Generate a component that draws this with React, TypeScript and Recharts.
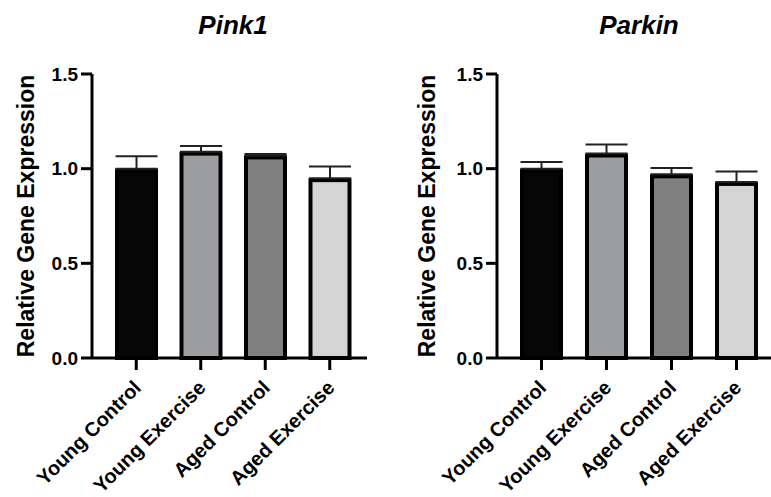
import React from "react";
import { BarChart, Bar, XAxis, YAxis, ErrorBar } from "recharts";

const FONT = "'Liberation Sans', Arial, sans-serif";

const categories = ["Young Control", "Young Exercise", "Aged Control", "Aged Exercise"];
const pink1Mean = [1.0, 1.09, 1.07, 0.95];
const pink1Sem = [0.065, 0.03, 0.008, 0.062];
const parkinMean = [1.0, 1.08, 0.97, 0.93];
const parkinSem = [0.035, 0.048, 0.034, 0.055];
const barColors = ["#060606", "#9d9ea2", "#808080", "#d4d4d4"];
const yTicks = [0, 0.5, 1.0, 1.5];

const buildRows = (mean: number[], sem: number[]) =>
  categories.map((name, i) => ({ name, mean: mean[i], err: [0, sem[i]] }));

// bar drawn with its 4px border inside the value box, like the original
const InsetBar = (props: any) => {
  const { x, y, width, height, index } = props;
  if (!height || height <= 0) return null;
  return (
    <rect
      x={x + 2}
      y={y + 2}
      width={width - 4}
      height={height - 2}
      fill={barColors[index]}
      stroke="#000"
      strokeWidth={4}
    />
  );
};

const XTick = (props: any) => {
  const { x, y, payload } = props;
  const ax = x + 6;
  const ay = y + 17;
  return (
    <text
      x={ax}
      y={ay}
      textAnchor="end"
      transform={`rotate(-45, ${ax}, ${ay})`}
      fontFamily={FONT}
      fontWeight="bold"
      fontSize={20}
      fill="#000"
    >
      {payload.value}
    </text>
  );
};

interface PanelProps {
  title: string;
  mean: number[];
  sem: number[];
  left: number;
  width: number;
  axisWidth: number;
  rightMargin: number;
  padRight: number;
  labelX: number;
  titleX: number;
}

function Panel({ title, mean, sem, left, width, axisWidth, rightMargin, padRight, labelX, titleX }: PanelProps) {
  const data = buildRows(mean, sem);
  return (
    <div style={{ position: "absolute", left, top: 0, width, height: 497 }}>
      <div
        style={{
          position: "absolute",
          left: titleX - 100,
          width: 200,
          top: 10,
          lineHeight: "30px",
          textAlign: "center",
          fontFamily: FONT,
          fontWeight: "bold",
          fontStyle: "italic",
          fontSize: 26,
          color: "#000",
        }}
      >
        {title}
      </div>
      <BarChart
        width={width}
        height={497}
        data={data}
        margin={{ top: 74, right: rightMargin, bottom: 0, left: 0 }}
        barSize={43}
      >
        <XAxis
          dataKey="name"
          padding={{ left: 12, right: padRight }}
          axisLine={{ stroke: "#000", strokeWidth: 3 }}
          tickLine={{ stroke: "#000", strokeWidth: 3 }}
          tickSize={12}
          tick={<XTick />}
          interval={0}
          height={139}
        />
        <YAxis
          width={axisWidth}
          domain={[0, 1.5]}
          ticks={yTicks}
          tickFormatter={(v) => Number(v).toFixed(1)}
          axisLine={{ stroke: "#000", strokeWidth: 3 }}
          tickLine={{ stroke: "#000", strokeWidth: 3 }}
          tickSize={11}
          tickMargin={3}
          tick={{ fill: "#000", fontFamily: FONT, fontWeight: "bold", fontSize: 19 }}
          label={(p: any) => {
            const vb = p.viewBox || { y: 74, height: 284 };
            const cy = vb.y + vb.height / 2;
            return (
              <text
                x={labelX}
                y={cy}
                textAnchor="middle"
                dominantBaseline="central"
                transform={`rotate(-90, ${labelX}, ${cy})`}
                fontFamily={FONT}
                fontWeight="bold"
                fontSize={23}
                fill="#000"
              >
                Relative Gene Expression
              </text>
            );
          }}
        />
        <Bar dataKey="mean" shape={<InsetBar />} isAnimationActive={false}>
          <ErrorBar dataKey="err" width={21} stroke="#222" strokeWidth={2} direction="y" />
        </Bar>
      </BarChart>
    </div>
  );
}

export default function App() {
  return (
    <div style={{ position: "absolute", left: 0, top: 0, width: 771, height: 497, background: "#fff" }}>
      <Panel
        title="Pink1"
        mean={pink1Mean}
        sem={pink1Sem}
        left={0}
        width={385}
        axisWidth={92}
        rightMargin={18}
        padRight={5}
        labelX={26}
        titleX={233}
      />
      <Panel
        title="Parkin"
        mean={parkinMean}
        sem={parkinSem}
        left={400}
        width={371}
        axisWidth={97}
        rightMargin={0}
        padRight={2}
        labelX={27}
        titleX={239}
      />
    </div>
  );
}
